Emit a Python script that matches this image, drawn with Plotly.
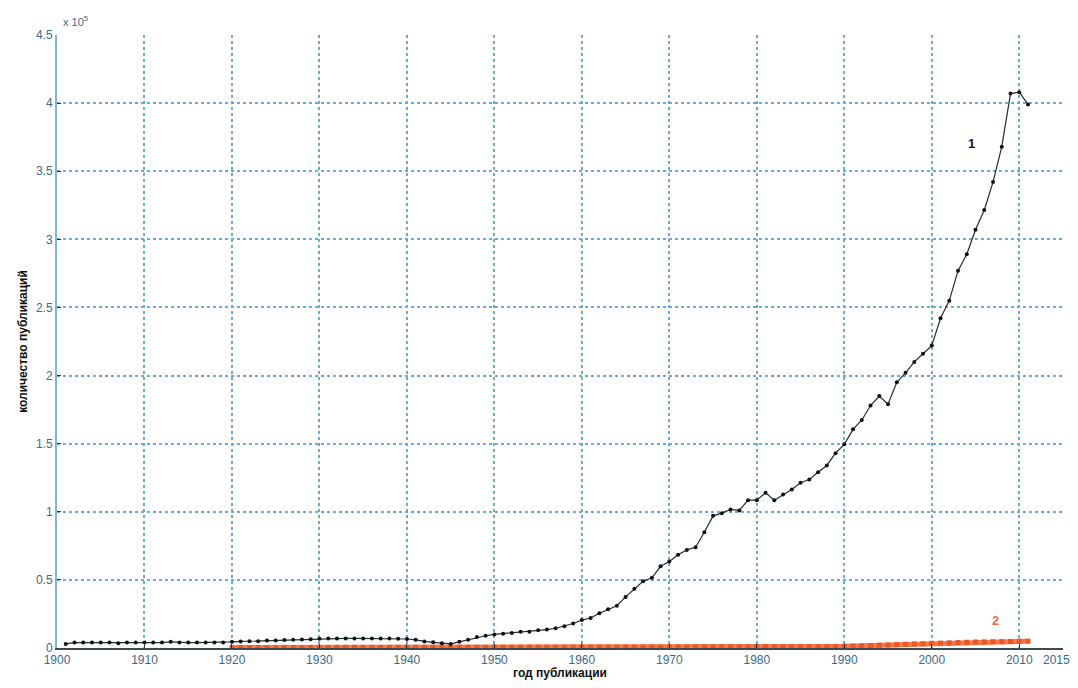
import plotly.graph_objects as go

# Series 1: total publications per year (units of 10^5)
years_1 = list(range(1901, 2012))
values_1 = [
    0.030, 0.040, 0.040, 0.040, 0.040, 0.040, 0.035, 0.040, 0.040, 0.040,   # 1901-1910
    0.040, 0.040, 0.045, 0.040, 0.040, 0.040, 0.040, 0.040, 0.040, 0.045,   # 1911-1920
    0.048, 0.050, 0.050, 0.055, 0.055, 0.058, 0.060, 0.062, 0.065, 0.068,   # 1921-1930
    0.070, 0.070, 0.070, 0.070, 0.070, 0.070, 0.070, 0.070, 0.068, 0.066,   # 1931-1940
    0.060, 0.048, 0.042, 0.035, 0.030, 0.045, 0.060, 0.080, 0.090, 0.100,   # 1941-1950
    0.105, 0.110, 0.120, 0.120, 0.130, 0.135, 0.145, 0.160, 0.180, 0.205,   # 1951-1960
    0.220, 0.255, 0.285, 0.310, 0.375, 0.435, 0.490, 0.515, 0.600, 0.635,   # 1961-1970
    0.685, 0.720, 0.740, 0.850, 0.970, 0.990, 1.017, 1.010, 1.085, 1.085,   # 1971-1980
    1.140, 1.085, 1.127, 1.164, 1.213, 1.237, 1.290, 1.340, 1.430, 1.495,   # 1981-1990
    1.605, 1.674, 1.780, 1.850, 1.790, 1.950, 2.020, 2.100, 2.160, 2.220,   # 1991-2000
    2.420, 2.550, 2.770, 2.890, 3.070, 3.215, 3.420, 3.680, 4.070, 4.080,   # 2001-2010
    3.990,                                                                  # 2011
]

# Series 2 (units of 10^5)
years_2 = list(range(1920, 2012))
values_2 = [
    0.004, 0.004, 0.004, 0.004, 0.004, 0.004, 0.004, 0.004, 0.004, 0.004,   # 1920-1929
    0.005, 0.005, 0.005, 0.005, 0.005, 0.005, 0.005, 0.005, 0.005, 0.005,   # 1930-1939
    0.005, 0.005, 0.005, 0.005, 0.005, 0.005, 0.005, 0.005, 0.005, 0.005,   # 1940-1949
    0.006, 0.006, 0.006, 0.006, 0.006, 0.006, 0.006, 0.006, 0.006, 0.006,   # 1950-1959
    0.007, 0.007, 0.007, 0.007, 0.007, 0.007, 0.007, 0.007, 0.007, 0.007,   # 1960-1969
    0.008, 0.008, 0.008, 0.008, 0.008, 0.008, 0.008, 0.008, 0.008, 0.008,   # 1970-1979
    0.010, 0.010, 0.010, 0.010, 0.010, 0.010, 0.010, 0.010, 0.010, 0.010,   # 1980-1989
    0.012, 0.014, 0.016, 0.018,                                             # 1990-1993
    0.020, 0.022, 0.025, 0.028, 0.030, 0.032, 0.035,                        # 1994-2000
    0.036, 0.038, 0.040, 0.042, 0.044, 0.045, 0.046, 0.047, 0.048, 0.050,   # 2001-2010
    0.050,                                                                  # 2011
]

scale = 1e5
x_ticks = [1900, 1910, 1920, 1930, 1940, 1950, 1960, 1970, 1980, 1990, 2000, 2010, 2015]
x_tick_text = ["1900", "1910", "1920", "1930", "1940", "1950", "1960", "1970", "1980",
               "1990", "2000", "2010", "2015&nbsp;&nbsp;&nbsp;&nbsp;"]
y_ticks = [0, 0.5, 1, 1.5, 2, 2.5, 3, 3.5, 4, 4.5]
y_tick_text = ["0", "0.5", "1", "1.5", "2", "2.5", "3", "3.5", "4", "4.5"]

tick_color = "#3f6884"
grid_color = "#62aede"

fig = go.Figure()
fig.add_trace(go.Scatter(
    x=years_2, y=[v * scale for v in values_2], mode="lines+markers",
    line=dict(color="#f47a4a", width=5),
    marker=dict(color="#ee5522", size=5, symbol="square"),
    showlegend=False, cliponaxis=False,
))
fig.add_trace(go.Scatter(
    x=years_1, y=[v * scale for v in values_1], mode="lines+markers",
    line=dict(color="#1f2f36", width=1.2),
    marker=dict(color="#111111", size=4),
    showlegend=False,
))

fig.add_annotation(x=2004.5, y=3.7 * scale, text="<b>1</b>", showarrow=False,
                   font=dict(family="Liberation Sans", size=13, color="#111111"))
fig.add_annotation(x=2007.3, y=0.2 * scale, text="<b>2</b>", showarrow=False,
                   font=dict(family="Liberation Sans", size=13, color="#f26a3a"))
fig.add_annotation(xref="paper", yref="paper", x=0.0, y=1.0, xanchor="left", yanchor="bottom",
                   text="x 10<sup>5</sup>", showarrow=False, yshift=5, xshift=4,
                   font=dict(family="Liberation Sans", size=11, color=tick_color))

fig.update_xaxes(
    range=[1900, 2015], tickvals=x_ticks, ticktext=x_tick_text, ticks="inside", ticklen=4,
    tickcolor="#333333", showline=True, linecolor="#3a4a52", linewidth=2,
    showgrid=True, gridcolor=grid_color, griddash="dot", gridwidth=1.5,
    zeroline=False, automargin=False, ticklabeloverflow="allow",
    tickfont=dict(family="Liberation Sans", size=12, color=tick_color),
    title=dict(text="<b>год публикации</b>", standoff=0,
               font=dict(family="Liberation Sans", size=12, color="#111111")),
)
fig.update_yaxes(
    range=[0, 4.5 * scale], tickvals=[t * scale for t in y_ticks], ticktext=y_tick_text,
    ticks="inside", ticklen=4, tickcolor="#333333",
    showline=True, linecolor="#7fb6d8", linewidth=2,
    showgrid=True, gridcolor=grid_color, griddash="dot", gridwidth=1.5,
    zeroline=False, automargin=False,
    tickfont=dict(family="Liberation Sans", size=12, color=tick_color),
    title=dict(text="<b>количество публикаций</b>", standoff=6,
               font=dict(family="Liberation Sans", size=12, color="#111111")),
)

fig.update_layout(
    width=1070, height=672,
    margin=dict(l=49, r=15, t=27, b=32),
    paper_bgcolor="white", plot_bgcolor="white",
)

fig.write_html("out.html")
